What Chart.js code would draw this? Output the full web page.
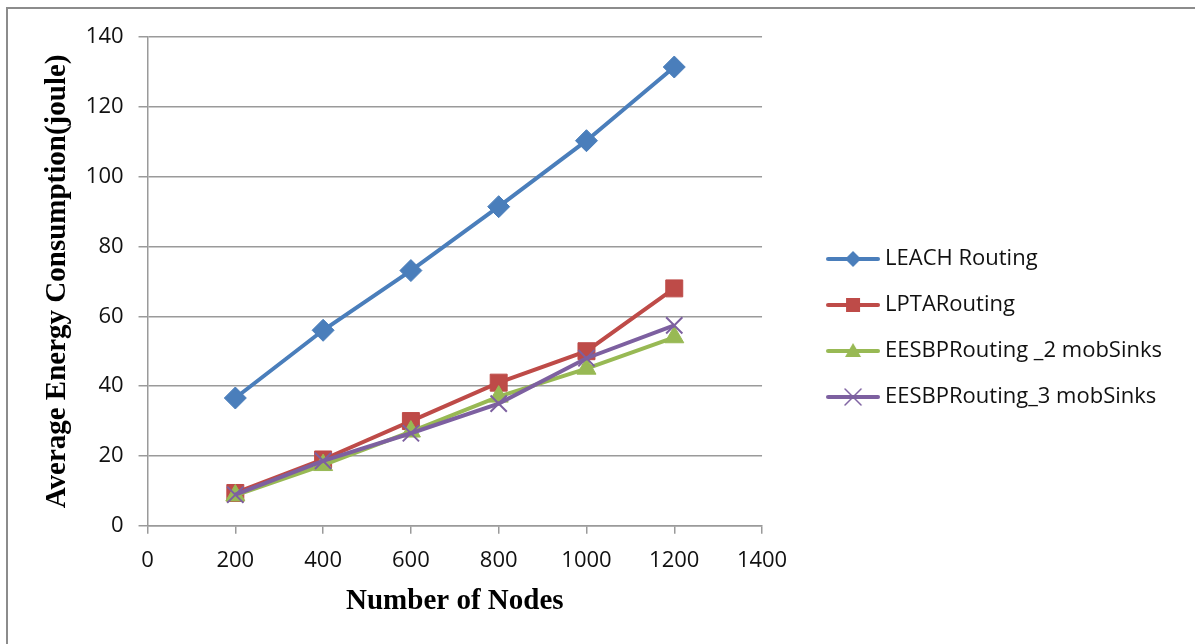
<!DOCTYPE html>
<html>
<head>
<meta charset="utf-8">
<script src="https://cdn.jsdelivr.net/npm/chart.js@4/dist/chart.umd.min.js"></script>
<style>
  html, body { margin: 0; padding: 0; background: #fff; }
  #wrap { position: absolute; left: 0; top: 0; width: 1195px; height: 644px; }
  #frame { position: absolute; left: 6px; top: 7px; width: 1300px; height: 800px;
           border-left: 2px solid #8c8c8c; border-top: 2px solid #8c8c8c; pointer-events: none; }
</style>
</head>
<body>
<div id="wrap"><canvas id="chart" width="1195" height="644"></canvas></div>
<div id="frame"></div>
<script>
// data
var nodes = [200, 400, 600, 800, 1000, 1200];
var leach = [36.6, 56, 73.1, 91.4, 110.3, 131.4];
var lpta = [9.4, 19, 30, 41, 50, 68];
var eesbp2 = [8.7, 17.4, 27, 37, 45, 54];
var eesbp3 = [8.9, 18.6, 26.5, 35, 48, 57.4];
var seriesNames = ['LEACH Routing', 'LPTARouting', 'EESBPRouting _2 mobSinks', 'EESBPRouting_3 mobSinks'];

var BLUE = '#4a7ebb';
var RED = '#be4b48';
var GREEN = '#98b954';
var PURPLE = '#7d60a0';

var TICK_FONT = { family: '"Open Sans", "Liberation Sans", sans-serif', size: 22 };
var TITLE_FONT = { family: '"Liberation Serif", "Times New Roman", serif', size: 29, weight: 'bold' };

function pts(values) {
  return values.map(function(v, i) { return { x: nodes[i], y: v }; });
}

// little "line + marker" swatch for the legend
function swatch(color, style, radius) {
  var c = document.createElement('canvas');
  c.width = 54; c.height = 24;
  var g = c.getContext('2d');
  g.strokeStyle = color;
  g.fillStyle = color;
  g.lineWidth = 4;
  g.lineCap = 'round';
  g.beginPath(); g.moveTo(2, 12); g.lineTo(52, 12); g.stroke();
  var x = 27, y = 12, r = radius;
  g.beginPath();
  if (style === 'rectRot') {
    g.moveTo(x, y - r); g.lineTo(x + r, y); g.lineTo(x, y + r); g.lineTo(x - r, y); g.closePath(); g.fill();
  } else if (style === 'rect') {
    g.fillRect(x - r, y - r, 2 * r, 2 * r);
  } else if (style === 'triangle') {
    g.moveTo(x, y - r); g.lineTo(x + r, y + r * 0.75); g.lineTo(x - r, y + r * 0.75); g.closePath(); g.fill();
  } else {
    g.lineWidth = 1.5;
    g.moveTo(x - r, y - r); g.lineTo(x + r, y + r);
    g.moveTo(x + r, y - r); g.lineTo(x - r, y + r); g.stroke();
  }
  return c;
}

var swatches = [
  swatch(BLUE, 'rectRot', 8),
  swatch(RED, 'rect', 7),
  swatch(GREEN, 'triangle', 8),
  swatch(PURPLE, 'cross', 8)
];

function dataset(label, values, color, style, radius, order, extra) {
  return Object.assign({
    label: label,
    data: pts(values),
    borderColor: color,
    backgroundColor: color,
    borderWidth: 4,
    pointStyle: style,
    pointRadius: radius,
    pointHoverRadius: radius,
    pointBorderWidth: 1,
    tension: 0,
    order: order
  }, extra || {});
}

new Chart(document.getElementById('chart').getContext('2d'), {
  type: 'line',
  data: {
    datasets: [
      dataset(seriesNames[0], leach, BLUE, 'rectRot', 11, 3),
      dataset(seriesNames[1], lpta, RED, 'rect', 12, 2),
      dataset(seriesNames[2], eesbp2, GREEN, 'triangle', 11, 1),
      dataset(seriesNames[3], eesbp3, PURPLE, 'crossRot', 11.5, 0, { pointBorderWidth: 2 })
    ]
  },
  options: {
    responsive: false,
    animation: false,
    layout: { padding: { left: 40, right: 23, top: 37, bottom: 25 } },
    plugins: {
      tooltip: { enabled: false },
      legend: {
        position: 'right',
        maxWidth: 420,
        labels: {
          usePointStyle: true,
          pointStyleWidth: 42,
          padding: 24,
          color: '#111',
          font: { family: '"Open Sans", "Liberation Sans", sans-serif', size: 22 },
          generateLabels: function(chart) {
            return chart.data.datasets.map(function(ds, i) {
              return {
                text: ds.label,
                fillStyle: ds.borderColor,
                strokeStyle: ds.borderColor,
                lineWidth: 0,
                pointStyle: swatches[i],
                hidden: false,
                datasetIndex: i,
                fontColor: '#111'
              };
            });
          }
        }
      }
    },
    scales: {
      x: {
        type: 'linear',
        min: 0,
        max: 1400,
        ticks: { stepSize: 200, color: '#111', font: TICK_FONT, padding: 14, maxRotation: 0,
                 callback: function(v) { return String(v); } },
        grid: { drawOnChartArea: false, color: '#9a9a9a', lineWidth: 1.5, tickLength: 8 },
        border: { color: '#9a9a9a', width: 1.5 },
        title: { display: true, text: 'Number of Nodes', color: '#000', font: TITLE_FONT, padding: { top: -4, bottom: 0 } }
      },
      y: {
        min: 0,
        max: 140,
        ticks: { stepSize: 20, color: '#111', font: TICK_FONT, padding: 15,
                 callback: function(v) { return String(v); } },
        grid: { color: '#9a9a9a', lineWidth: 1.5, tickLength: 9 },
        border: { color: '#9a9a9a', width: 1.5 },
        title: { display: true, text: 'Average Energy Consumption(joule)', color: '#000', font: TITLE_FONT, padding: { top: 0, bottom: -4 } }
      },
      // empty spacer between the plot and the legend
      gap: {
        position: 'right',
        min: 0,
        max: 1,
        ticks: { display: false },
        grid: { display: false },
        border: { display: false },
        afterFit: function(scale) { scale.width = 46; }
      }
    }
  }
});
</script>
</body>
</html>
